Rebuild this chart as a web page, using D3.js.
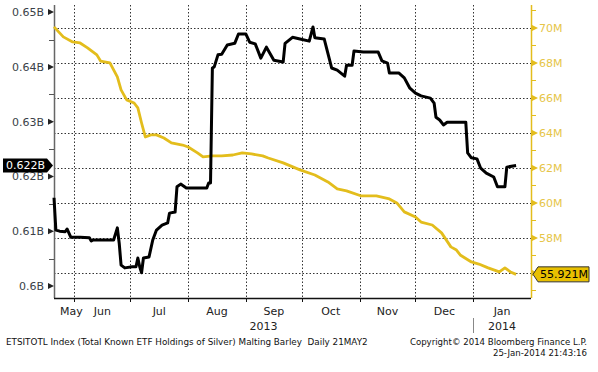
<!DOCTYPE html>
<html>
<head>
<meta charset="utf-8">
<script src="https://cdn.jsdelivr.net/npm/d3@7"></script>
<style>
  body { margin: 0; background: #fff; }
  text { font-family: "DejaVu Sans", sans-serif; }
</style>
</head>
<body>
<div id="chart"></div>
<script>
// ETF holdings of silver (left, billions) vs malting barley (right, millions)
var blackDates = ["2013-05-21","2013-05-22","2013-05-24","2013-05-27","2013-05-28","2013-05-30","2013-06-04","2013-06-09","2013-06-10","2013-06-11","2013-06-22","2013-06-24","2013-06-25","2013-06-26","2013-06-28","2013-07-02","2013-07-04","2013-07-05","2013-07-06","2013-07-07","2013-07-08","2013-07-11","2013-07-13","2013-07-15","2013-07-18","2013-07-21","2013-07-22","2013-07-25","2013-07-26","2013-07-28","2013-07-31","2013-08-11","2013-08-12","2013-08-13","2013-08-14","2013-08-15","2013-08-17","2013-08-19","2013-08-22","2013-08-26","2013-08-28","2013-09-01","2013-09-03","2013-09-06","2013-09-09","2013-09-12","2013-09-16","2013-09-21","2013-09-22","2013-09-26","2013-09-30","2013-10-05","2013-10-07","2013-10-08","2013-10-13","2013-10-17","2013-10-20","2013-10-24","2013-10-25","2013-10-28","2013-10-29","2013-11-03","2013-11-11","2013-11-13","2013-11-16","2013-11-17","2013-11-22","2013-11-25","2013-11-28","2013-12-01","2013-12-04","2013-12-09","2013-12-11","2013-12-12","2013-12-14","2013-12-16","2013-12-18","2013-12-28","2013-12-29","2013-12-31","2014-01-03","2014-01-05","2014-01-08","2014-01-12","2014-01-14","2014-01-18","2014-01-19","2014-01-24"];
var blackValues = [0.6161,0.6102,0.6100,0.6099,0.6104,0.6089,0.6089,0.6088,0.6082,0.6084,0.6084,0.6106,0.6078,0.6038,0.6033,0.6035,0.6035,0.6051,0.6035,0.6024,0.6051,0.6053,0.6084,0.6102,0.6111,0.6115,0.6133,0.6135,0.6181,0.6186,0.6179,0.6179,0.6188,0.6188,0.6398,0.6400,0.6422,0.6423,0.6440,0.6443,0.6460,0.6460,0.6445,0.6442,0.6416,0.6436,0.6412,0.6409,0.6443,0.6454,0.6451,0.6447,0.6473,0.6453,0.6451,0.6398,0.6394,0.6383,0.6403,0.6403,0.6429,0.6427,0.6427,0.6411,0.6407,0.6389,0.6389,0.6380,0.6361,0.6352,0.6347,0.6343,0.6334,0.6308,0.6303,0.6294,0.6299,0.6299,0.6243,0.6234,0.6232,0.6215,0.6206,0.6199,0.6181,0.6181,0.6217,0.6220];

var yellowDates = ["2013-05-21","2013-05-26","2013-05-31","2013-06-04","2013-06-08","2013-06-13","2013-06-15","2013-06-20","2013-06-24","2013-06-26","2013-06-29","2013-07-03","2013-07-05","2013-07-07","2013-07-09","2013-07-12","2013-07-15","2013-07-19","2013-07-23","2013-07-29","2013-08-01","2013-08-06","2013-08-09","2013-08-14","2013-08-19","2013-08-25","2013-08-30","2013-09-04","2013-09-10","2013-09-13","2013-09-21","2013-09-30","2013-10-08","2013-10-15","2013-10-20","2013-10-25","2013-11-02","2013-11-10","2013-11-17","2013-11-21","2013-11-25","2013-12-01","2013-12-04","2013-12-10","2013-12-15","2013-12-20","2013-12-23","2013-12-25","2013-12-31","2014-01-04","2014-01-09","2014-01-15","2014-01-18","2014-01-21","2014-01-24"];
var yellowValues = [70.06,69.49,69.20,69.14,68.86,68.46,68.11,68.00,67.20,66.46,65.89,65.71,65.43,64.57,63.77,63.89,63.89,63.71,63.43,63.31,63.20,62.86,62.63,62.69,62.69,62.74,62.86,62.80,62.69,62.57,62.29,61.89,61.60,61.20,60.80,60.69,60.40,60.40,60.23,60.00,59.49,59.20,58.91,58.74,58.29,57.49,57.31,57.03,56.63,56.51,56.29,56.06,56.29,56.06,55.921];

// axis ticks and labels (56M label sits under the last-value tag, so it is not shown)
var leftTicks = [0.60, 0.61, 0.62, 0.63, 0.64, 0.65];
var leftTickLabels = ["0.6B", "0.61B", "0.62B", "0.63B", "0.64B", "0.65B"];
var leftMinorTicks = [0.605, 0.615, 0.625, 0.635, 0.645];
var rightTicks = [56, 58, 60, 62, 64, 66, 68, 70];
var rightTickLabels = ["", "58M", "60M", "62M", "64M", "66M", "68M", "70M"];
var rightMinorTicks = [55, 57, 59, 61, 63, 65, 67, 69, 71];
var monthStarts = ["2013-06-01","2013-07-01","2013-08-01","2013-09-01","2013-10-01","2013-11-01","2013-12-01","2014-01-01"];
var monthLabels = ["May", "Jun", "Jul", "Aug", "Sep", "Oct", "Nov", "Dec", "Jan"];
var yearLabels = ["2013", "2014"];

var footerLeft = "ETSITOTL Index (Total Known ETF Holdings of Silver) Malting Barley  Daily 21MAY2";
var footerRight1 = "Copyright\u00A9 2014 Bloomberg Finance L.P.";
var footerRight2 = "25-Jan-2014 21:43:16";

var svgWidth = 598;
var svgHeight = 372;

var margin = { top: 5, bottom: 74, left: 54, right: 67 };
var width = svgWidth - margin.left - margin.right;
var height = svgHeight - margin.top - margin.bottom;

var yellow = "#e3bd1c";
var yellowText = "#e6c548";

var parse = d3.timeParse("%Y-%m-%d");

var blackData = blackDates.map((d, i) => ({ date: parse(d), value: blackValues[i] }));
var yellowData = yellowDates.map((d, i) => ({ date: parse(d), value: yellowValues[i] }));
var months = monthStarts.map(parse);

var svg = d3.select("#chart")
  .append("svg")
    .attr("width", svgWidth)
    .attr("height", svgHeight);

var xScale = d3.scaleTime()
    .domain([new Date(2013, 4, 21), new Date(2014, 1, 1)])
    .range([0, width]);

var yLeft = d3.scaleLinear()
    .domain([0.5978, 0.6513])
    .range([height, 0]);

var yRight = d3.scaleLinear()
    .domain([54.57, 71.31])
    .range([height, 0]);

var g = svg.append("g")
    .attr("transform", `translate(${margin.left}, ${margin.top})`);

// dotted grid
g.selectAll(".hgrid").data(rightTicks)
  .enter().append("line")
    .attr("x1", 0).attr("x2", width)
    .attr("y1", d => Math.round(yRight(d)) + 0.5)
    .attr("y2", d => Math.round(yRight(d)) + 0.5)
    .attr("stroke", "#333")
    .attr("stroke-dasharray", "1.5,2");

g.selectAll(".vgrid").data(months)
  .enter().append("line")
    .attr("y1", 0).attr("y2", height)
    .attr("x1", d => Math.round(xScale(d)) + 0.5)
    .attr("x2", d => Math.round(xScale(d)) + 0.5)
    .attr("stroke", "#333")
    .attr("stroke-dasharray", "1.5,2");

// left axis
g.append("line")
    .attr("x1", 0.5).attr("x2", 0.5)
    .attr("y1", 0).attr("y2", height)
    .attr("stroke", "#666")
    .attr("stroke-width", 1.5);

g.selectAll(".lminor").data(leftMinorTicks)
  .enter().append("line")
    .attr("x1", -5).attr("x2", 0)
    .attr("y1", d => Math.round(yLeft(d)) + 0.5)
    .attr("y2", d => Math.round(yLeft(d)) + 0.5)
    .attr("stroke", "#555");

g.selectAll(".ltri").data(leftTicks)
  .enter().append("path")
    .attr("d", d => {
        var y = yLeft(d);
        return `M0,${y}L-6,${y - 3}L-6,${y + 3}Z`;
    })
    .attr("fill", "#222");

g.selectAll(".llabel").data(leftTicks)
  .enter().append("text")
    .attr("x", -10)
    .attr("y", d => yLeft(d) + 4)
    .attr("text-anchor", "end")
    .attr("font-size", 11)
    .attr("fill", "#3a3f48")
    .text((d, i) => leftTickLabels[i]);

// right axis
g.append("line")
    .attr("x1", width + 0.5).attr("x2", width + 0.5)
    .attr("y1", 0).attr("y2", height)
    .attr("stroke", yellow)
    .attr("stroke-width", 1.5);

g.selectAll(".rminor").data(rightMinorTicks)
  .enter().append("line")
    .attr("x1", width).attr("x2", width + 5)
    .attr("y1", d => Math.round(yRight(d)) + 0.5)
    .attr("y2", d => Math.round(yRight(d)) + 0.5)
    .attr("stroke", yellow);

g.selectAll(".rtri").data(rightTicks)
  .enter().append("path")
    .attr("d", d => {
        var y = yRight(d);
        return `M${width + 7},${y}L${width + 1},${y - 3}L${width + 1},${y + 3}Z`;
    })
    .attr("fill", yellow);

g.selectAll(".rlabel").data(rightTicks.filter((d, i) => rightTickLabels[i]))
  .enter().append("text")
    .attr("x", width + 8)
    .attr("y", d => yRight(d) + 4)
    .attr("font-size", 11)
    .attr("fill", yellowText)
    .text(d => rightTickLabels[rightTicks.indexOf(d)]);

// bottom axis
g.append("line")
    .attr("x1", 0).attr("x2", width)
    .attr("y1", height + 0.5).attr("y2", height + 0.5)
    .attr("stroke", "#111")
    .attr("stroke-width", 1.5);

g.selectAll(".xtick").data(months)
  .enter().append("line")
    .attr("x1", d => Math.round(xScale(d)) + 0.5)
    .attr("x2", d => Math.round(xScale(d)) + 0.5)
    .attr("y1", height).attr("y2", height + 4)
    .attr("stroke", "#111");

// month labels centred in each month
var bounds = [xScale.domain()[0]].concat(months, [xScale.domain()[1]]);
g.selectAll(".mlabel").data(monthLabels)
  .enter().append("text")
    .attr("x", (d, i) => i === 0 ? 6 : (xScale(bounds[i]) + xScale(bounds[i + 1])) / 2)
    .attr("y", height + 17)
    .attr("text-anchor", (d, i) => i === 0 ? "start" : "middle")
    .attr("font-size", 11)
    .attr("fill", "#222")
    .text(d => d);

var jan = months[months.length - 1];
g.append("text")
    .attr("x", xScale(jan) / 2)
    .attr("y", height + 32)
    .attr("text-anchor", "middle")
    .attr("font-size", 11)
    .attr("fill", "#222")
    .text(yearLabels[0]);

g.append("text")
    .attr("x", (xScale(jan) + width) / 2)
    .attr("y", height + 32)
    .attr("text-anchor", "middle")
    .attr("font-size", 11)
    .attr("fill", "#222")
    .text(yearLabels[1]);

g.append("line")
    .attr("x1", Math.round(xScale(jan)) + 0.5)
    .attr("x2", Math.round(xScale(jan)) + 0.5)
    .attr("y1", height + 20).attr("y2", height + 35)
    .attr("stroke", "#888");

// the two series
var yellowLine = d3.line()
    .x(d => xScale(d.date))
    .y(d => yRight(d.value));

var blackLine = d3.line()
    .x(d => xScale(d.date))
    .y(d => yLeft(d.value));

g.append("path")
    .datum(yellowData)
    .attr("d", yellowLine)
    .attr("fill", "none")
    .attr("stroke", yellow)
    .attr("stroke-width", 2.8)
    .attr("stroke-linejoin", "round");

g.append("path")
    .datum(blackData)
    .attr("d", blackLine)
    .attr("fill", "none")
    .attr("stroke", "#000")
    .attr("stroke-width", 3)
    .attr("stroke-linejoin", "round");

// last value tags
var lastBlack = blackValues[blackValues.length - 1];
var lastYellow = yellowValues[yellowValues.length - 1];

var by = yLeft(lastBlack);
g.append("path")
    .attr("d", `M${-51},${by - 7}L${-7},${by - 7}L${-1},${by}L${-7},${by + 7}L${-51},${by + 7}Z`)
    .attr("fill", "#000");
g.append("text")
    .attr("x", -48)
    .attr("y", by + 4)
    .attr("font-size", 11)
    .attr("fill", "#fff")
    .text(lastBlack.toFixed(3) + "B");

var yy = yRight(lastYellow);
g.append("path")
    .attr("d", `M${width + 2},${yy}L${width + 7},${yy - 7.5}L${width + 58},${yy - 7.5}L${width + 58},${yy + 7.5}L${width + 7},${yy + 7.5}Z`)
    .attr("fill", "#e8c000")
    .attr("stroke", "#333")
    .attr("stroke-width", 1);
g.append("text")
    .attr("x", width + 9)
    .attr("y", yy + 4)
    .attr("font-size", 11)
    .attr("fill", "#000")
    .text(lastYellow.toFixed(3) + "M");

// footer
svg.append("text")
    .attr("x", 6)
    .attr("y", 345)
    .attr("font-size", 8.8)
    .attr("fill", "#111")
    .style("white-space", "pre")
    .text(footerLeft);

svg.append("text")
    .attr("x", 587)
    .attr("y", 345)
    .attr("text-anchor", "end")
    .attr("font-size", 8.6)
    .attr("fill", "#111")
    .text(footerRight1);

svg.append("text")
    .attr("x", 587)
    .attr("y", 356)
    .attr("text-anchor", "end")
    .attr("font-size", 8.6)
    .attr("fill", "#111")
    .text(footerRight2);
</script>
</body>
</html>
